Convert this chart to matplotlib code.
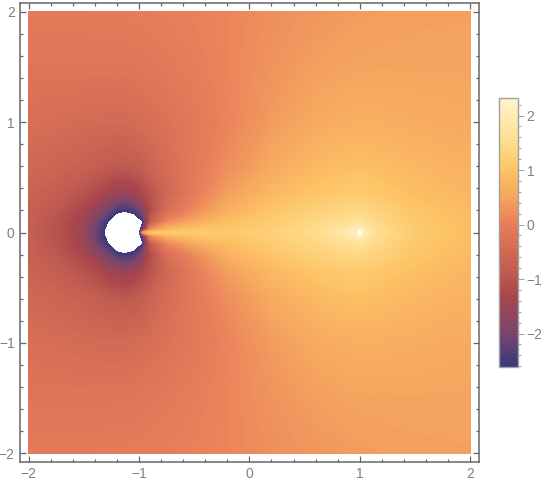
import numpy as np
import matplotlib
matplotlib.use('Agg')
import matplotlib.pyplot as plt
from matplotlib.cm import ScalarMappable
from matplotlib.colors import LinearSegmentedColormap, Normalize
from matplotlib.ticker import MultipleLocator

plt.rcParams['font.family'] = ['Liberation Sans', 'DejaVu Sans']

# values, upper half only (the field looks mirrored in y)
xs = [-2, -1.7, -1.5, -1.4, -1.32, -1.28, -1.2, -1.13, -1.05, -1.0, -0.97, -0.9, -0.75,
      -0.5, -0.2, 0.2, 0.6, 0.85, 0.97, 1.0, 1.03, 1.15, 1.5, 2]
ys = [0, 0.03, 0.1, 0.15, 0.2, 0.35, 0.6, 1.0, 1.5, 2]

row_y00 = [-.78, -1.1, -1.55, -2.05, -2.55, -2.85, -3.6, -4.1, -3.6, -2.62, .2, 1.0, 1.15,
           1.15, 1.1, 1.25, 1.5, 1.85, 2.15, 2.5, 2.0, 1.55, 1.15, .9]
row_y03 = [-.78, -1.1, -1.55, -2.05, -2.55, -2.85, -3.6, -4, -3.6, -2.85, -2.3, .1, .7,
           1.0, 1.05, 1.22, 1.47, 1.75, 2.05, 2.15, 1.95, 1.52, 1.14, .9]
row_y10 = [-.76, -1.07, -1.5, -2.0, -2.4, -2.62, -3.2, -3.35, -3.2, -2.87, -2.7, -.9, .1,
           .55, .88, 1.15, 1.38, 1.55, 1.65, 1.67, 1.63, 1.42, 1.1, .88]
row_y15 = [-.74, -1.03, -1.42, -1.82, -2.1, -2.3, -2.82, -2.95, -2.78, -2.45, -2.2, -1.0, -.15,
           .35, .78, 1.1, 1.32, 1.45, 1.52, 1.52, 1.5, 1.36, 1.07, .86]
row_y20 = [-.72, -1.0, -1.35, -1.65, -1.95, -2.05, -2.42, -2.55, -2.4, -2.1, -1.9, -1.2, -.35,
           .15, .68, 1.03, 1.25, 1.35, 1.4, 1.4, 1.38, 1.3, 1.05, .85]
row_y35 = [-.65, -.85, -1.05, -1.2, -1.35, -1.45, -1.55, -1.6, -1.5, -1.4, -1.3, -1.05, -.55,
           -.05, .42, .82, 1.05, 1.13, 1.15, 1.15, 1.14, 1.08, .93, .78]
row_y60 = [-.52, -.62, -.72, -.78, -.83, -.85, -.89, -.9, -.85, -.8, -.77, -.65, -.42,
           -.1, .2, .58, .82, .9, .92, .92, .92, .89, .8, .7]
row_y100 = [-.35, -.4, -.43, -.45, -.46, -.47, -.47, -.46, -.43, -.42, -.4, -.36, -.28,
            -.12, .08, .38, .58, .65, .67, .67, .67, .67, .63, .58]
row_y150 = [-.2, -.2, -.2, -.2, -.2, -.2, -.2, -.2, -.18, -.17, -.16, -.14, -.1,
            -.02, .1, .28, .42, .47, .49, .49, .49, .5, .5, .49]
row_y200 = [-.08, -.07, -.07, -.06, -.06, -.06, -.05, -.05, -.04, -.03, -.03, -.02, 0,
            .04, .11, .22, .31, .36, .38, .38, .38, .4, .43, .45]

# colour bar stops, value and colour
stop_values = [-2.62, -2.0, -1.3, -0.9, 0, 0.5, 1.0, 1.5, 2.316]
stop_colors = ['#37377d', '#78466e', '#aa464b', '#be5a50', '#e87d5a', '#f5a55f',
               '#fdc364', '#fedc8c', '#fff5cd']

vmin, vmax = stop_values[0], stop_values[-1]
positions = [(v - vmin) / (vmax - vmin) for v in stop_values]
cmap = LinearSegmentedColormap.from_list('bar', list(zip(positions, stop_colors)), N=512)
cmap.set_under('white')
cmap.set_over('white')
norm = Normalize(vmin, vmax)

upper = np.array([row_y00, row_y03, row_y10, row_y15, row_y20, row_y35, row_y60, row_y100,
                  row_y150, row_y200])
grid = np.vstack([upper[:0:-1], upper])
y_full = [-y for y in ys[:0:-1]] + ys

W, H = 550, 483
fig = plt.figure(figsize=(W / 100, H / 100), dpi=100)
grey = '#666666'
label_grey = '#808080'

ax = fig.add_axes([19.5 / W, 1 - 462.3 / H, (479.3 - 19.5) / W, (462.3 - 2.7) / H])
levels = np.linspace(vmin, vmax, 200)
ax.contourf(xs, y_full, grid, levels=levels, cmap=cmap, norm=norm, extend='both',
            antialiased=False)
ax.set_xlim(-2.083, 2.083)
ax.set_ylim(-2.083, 2.083)
ax.set_xticks([-2, -1, 0, 1, 2])
ax.set_yticks([-2, -1, 0, 1, 2])
ax.xaxis.set_minor_locator(MultipleLocator(0.2))
ax.yaxis.set_minor_locator(MultipleLocator(0.2))
ax.tick_params(which='major', direction='in', length=4, width=0.9, color=grey,
               top=True, right=True, labelsize=10, labelcolor=label_grey, pad=3.5)
ax.tick_params(which='minor', direction='in', length=2.2, width=0.9, color=grey,
               top=True, right=True)
for s in ax.spines.values():
    s.set_color(grey)
    s.set_linewidth(1.1)

cax = fig.add_axes([499 / W, 1 - 367.3 / H, (517.7 - 499) / W, (367.3 - 98.3) / H])
cb = fig.colorbar(ScalarMappable(norm=norm, cmap=cmap), cax=cax)
cb.set_ticks([-2, -1, 0, 1, 2])
cb.ax.yaxis.set_minor_locator(MultipleLocator(0.2))
cb.ax.tick_params(which='major', length=4, width=0.7, color='#a0a0a0', labelsize=10,
                  labelcolor=label_grey, pad=2.5)
cb.ax.tick_params(which='minor', length=2.5, width=0.7, color='#a0a0a0')
cb.outline.set_edgecolor('#a0a0a0')
cb.outline.set_linewidth(1)

fig.savefig('out.png', dpi=100)
